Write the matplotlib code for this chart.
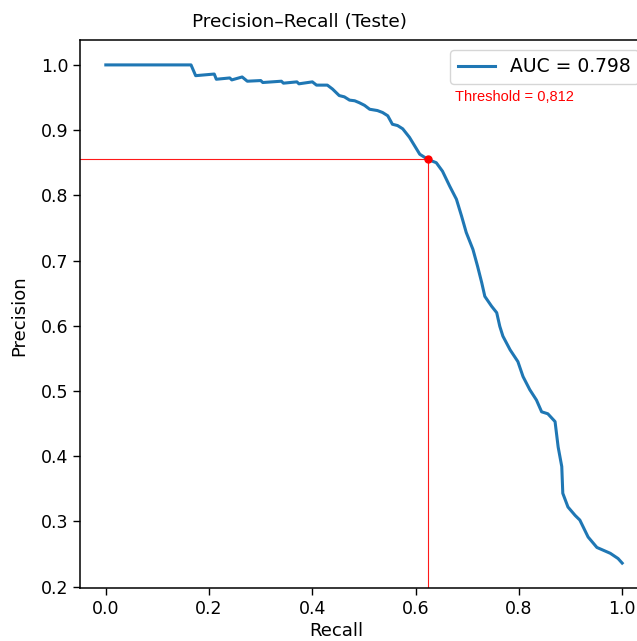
import matplotlib
matplotlib.use("Agg")
import matplotlib.pyplot as plt

recall = [0.0, 0.165, 0.174, 0.210, 0.214, 0.240, 0.244, 0.264, 0.274, 0.300, 0.304,
          0.340, 0.344, 0.370, 0.374, 0.400, 0.408, 0.429, 0.439,
          0.452, 0.462, 0.472, 0.482, 0.491, 0.501, 0.511, 0.526, 0.536, 0.546, 0.555,
          0.565, 0.575, 0.588, 0.598, 0.608,
          0.624, 0.640, 0.652, 0.666, 0.679, 0.689, 0.698, 0.711, 0.720, 0.728, 0.734,
          0.747, 0.757, 0.763, 0.769, 0.783, 0.798, 0.808, 0.821, 0.834, 0.844, 0.856,
          0.870, 0.876, 0.883, 0.885, 0.895, 0.909, 0.918, 0.934, 0.951, 0.977, 0.992, 1.0]
precision = [1.0, 1.0, 0.9835, 0.986, 0.978, 0.980, 0.977, 0.9815, 0.975, 0.976, 0.973,
             0.975, 0.972, 0.974, 0.971, 0.974, 0.969, 0.969, 0.963,
             0.953, 0.951, 0.946, 0.945, 0.942, 0.938, 0.932, 0.930, 0.927, 0.922, 0.909,
             0.907, 0.902, 0.889, 0.876, 0.863,
             0.855, 0.850, 0.837, 0.814, 0.794, 0.768, 0.743, 0.717, 0.691, 0.666, 0.645,
             0.630, 0.620, 0.599, 0.584, 0.563, 0.545, 0.522, 0.502, 0.486, 0.468, 0.465,
             0.453, 0.414, 0.384, 0.343, 0.322, 0.309, 0.302, 0.276, 0.260, 0.251, 0.243, 0.236]
auc_value = 0.798
thr_recall = 0.624
thr_precision = 0.855
thr_value = "0,812"

W, H = 637, 641
fig = plt.figure(figsize=(W / 100, H / 100), dpi=100)
ax = fig.add_axes([80 / W, (H - 588) / H, (648 - 80) / W, (588 - 40) / H])

line, = ax.plot(recall, precision, color="#1f77b4", lw=2.2, label=f"AUC = {auc_value:.3f}")
ax.set_xlim(-0.05, 1.05)
ax.margins(y=0.05)
ymin, ymax = ax.get_ylim()

ax.plot([-0.05, thr_recall], [thr_precision, thr_precision], color="red", lw=0.8, alpha=0.9)
ax.plot([thr_recall, thr_recall], [ymin, thr_precision], color="red", lw=0.8, alpha=0.9)
ax.set_ylim(ymin, ymax)
ax.plot([thr_recall], [thr_precision], "o", color="red", ms=5, zorder=5)

ax.set_xticks([0.0, 0.2, 0.4, 0.6, 0.8, 1.0])
ax.set_yticks([0.2, 0.3, 0.4, 0.5, 0.6, 0.7, 0.8, 0.9, 1.0])
ax.tick_params(labelsize=12.5, length=5, width=1)
for s in ax.spines.values():
    s.set_linewidth(1.1)

leg = ax.legend(loc="upper left", bbox_to_anchor=(450 / W, 1 - 50 / H),
                bbox_transform=fig.transFigure, fontsize=13.5, borderaxespad=0,
                handlelength=2.0)

fig.text(455 / W, 1 - 97 / H, f"Threshold = {thr_value}", color="red",
         fontsize=10.5, family="Liberation Sans", va="center", ha="left")
fig.text(300 / W, 1 - 22 / H, "Precision\u2013Recall (Teste)", fontsize=13.3,
         ha="center", va="center")
fig.text(336 / W, 1 - 640 / H, "Recall", fontsize=13, ha="center", va="bottom")
fig.text(19.5 / W, 1 - 316 / H, "Precision", fontsize=13, ha="center", va="center",
         rotation=90)

fig.savefig("out.png", dpi=100)
